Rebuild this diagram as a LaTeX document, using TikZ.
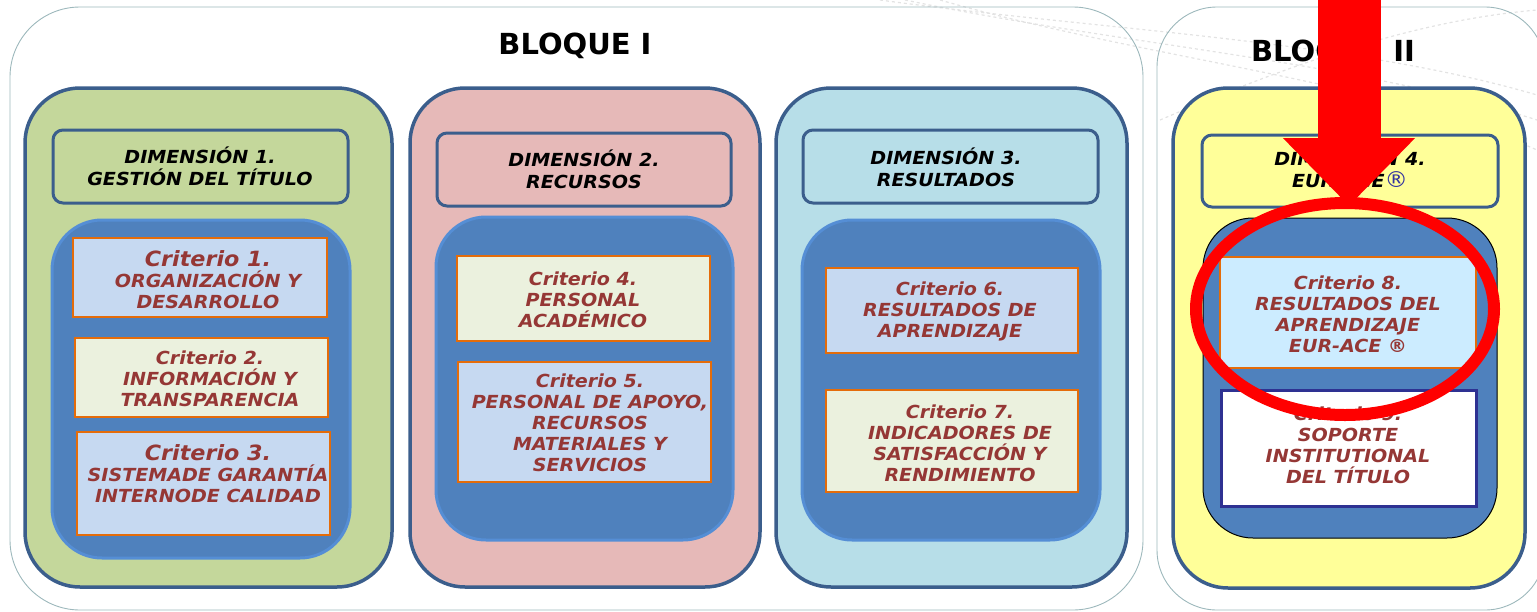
\documentclass[tikz,border=0pt]{standalone}
\usepackage{fontspec}
\setmainfont{DejaVu Sans}
\newfontfamily\anchafont[FakeStretch=1.06]{DejaVu Sans}
\usetikzlibrary{positioning,shapes.geometric,arrows.meta}

\definecolor{bordeazul}{HTML}{3B5E8C}
\definecolor{bordebloque}{HTML}{9DB8BC}
\definecolor{verde}{HTML}{C4D79B}
\definecolor{rosa}{HTML}{E6B9B8}
\definecolor{celeste}{HTML}{B7DEE8}
\definecolor{amarillo}{HTML}{FFFF99}
\definecolor{azulint}{HTML}{4F81BD}
\definecolor{azulborde}{HTML}{558ED5}
\definecolor{critazul}{HTML}{C6D9F1}
\definecolor{critcrema}{HTML}{EBF1DE}
\definecolor{critcian}{HTML}{CCECFF}
\definecolor{naranja}{HTML}{E46C0A}
\definecolor{marino}{HTML}{2E3192}
\definecolor{textorojo}{HTML}{953735}
\definecolor{regazul}{HTML}{3333A0}

\tikzset{
  bloque/.style={draw=bordebloque, line width=0.9pt, rounded corners=70pt},
  dimpanel/.style={draw=bordeazul, line width=3.5pt, rounded corners=55pt},
  dimtitulo/.style={draw=bordeazul, line width=3pt, rounded corners=10pt},
  interior/.style={fill=azulint, draw=azulborde, line width=3pt, rounded corners=50pt},
  criterio/.style={draw=naranja, line width=2pt},
  critexto/.style={text=textorojo, font=\anchafont\bfseries\itshape\fontsize{18}{21}\selectfont, align=center, inner sep=0pt},
  dimtexto/.style={font=\anchafont\bfseries\itshape\fontsize{18}{22}\selectfont, align=center, inner sep=0pt},
  bloqtexto/.style={font=\bfseries\fontsize{29}{34}\selectfont, inner sep=0pt},
  flecha/.style={red, line width=63pt, -{Triangle[length=68pt, width=128pt]}},
  deco/.style={gray!22, dashed, line width=1.2pt}
}
\newcommand{\critgrande}[1]{{\fontsize{21}{24}\selectfont #1}}

\begin{document}
\begin{tikzpicture}[x=1pt, y=-1pt]
  \useasboundingbox (0,0) rectangle (1537,611);
  % lineas de fondo
  \draw[deco] (880,0) .. controls (1100,30) and (1350,40) .. (1537,95);
  \draw[deco] (905,0) .. controls (1120,45) and (1350,60) .. (1537,120);
  \draw[deco] (940,0) .. controls (1150,60) and (1380,80) .. (1537,150);
  \draw[deco] (1160,120) .. controls (1300,60) and (1420,20) .. (1537,10);

  % bloques
  \draw[bloque] (10,7) rectangle (1143,610);
  \draw[bloque, rounded corners=60pt] (1157,7) rectangle (1545,610);
  \node[bloqtexto] (bloq1) at (575,46) {BLOQUE I};
  \node[bloqtexto] (bloq2) at (1333,53) {BLOQUE II};

  % dimensiones
  \node[dimpanel, fill=verde, minimum width=367pt, minimum height=499pt] (dim1) at (208.5,337.5) {};
  \node[dimpanel, fill=rosa, minimum width=350pt, minimum height=499pt] (dim2) at (585,337.5) {};
  \node[dimpanel, fill=celeste, minimum width=351pt, minimum height=499pt] (dim3) at (951.5,337.5) {};
  \node[dimpanel, fill=amarillo, minimum width=352pt, minimum height=500pt] (dim4) at (1349,338) {};

  \node[dimtitulo, fill=verde, minimum width=295pt, minimum height=73pt] (tit1) at (200.5,166.5) {};
  \node[dimtitulo, fill=rosa, minimum width=294pt, minimum height=73pt] (tit2) at (584,169.5) {};
  \node[dimtitulo, fill=celeste, minimum width=295pt, minimum height=73pt] (tit3) at (950.5,166.5) {};
  \node[dimtitulo, fill=amarillo, minimum width=296pt, minimum height=72pt] (tit4) at (1350,171) {};
  \node[dimtexto] (tx1) at (200,166) {DIMENSIÓN 1.\\GESTIÓN DEL TÍTULO};
  \node[dimtexto] (tx2) at (584,169) {DIMENSIÓN 2.\\RECURSOS};
  \node[dimtexto] (tx3) at (946,167) {DIMENSIÓN 3.\\RESULTADOS};
  \node[dimtexto] (tx4) at (1350,168) {DIMENSIÓN 4.\\EUR-ACE{\color{regazul}\mdseries\upshape\fontsize{22}{22}\selectfont ®}};

  % zonas interiores
  \node[interior, minimum width=298pt, minimum height=338pt] (int1) at (201,389) {};
  \node[interior, minimum width=297pt, minimum height=323pt] (int2) at (584.5,378.5) {};
  \node[interior, minimum width=298pt, minimum height=320pt] (int3) at (951,380) {};
  \node[interior, draw=black, line width=1pt, minimum width=294pt, minimum height=320pt] (int4) at (1350,378) {};

  % criterios
  \node[criterio, fill=critazul, minimum width=254pt, minimum height=79pt] (crit1) at (200,277.5) {};
  \node[criterio, fill=critcrema, minimum width=253pt, minimum height=79pt] (crit2) at (201.5,377.5) {};
  \node[criterio, fill=critazul, minimum width=253pt, minimum height=103pt] (crit3) at (203.5,483.5) {};
  \node[criterio, fill=critcrema, minimum width=253pt, minimum height=85pt] (crit4) at (583.5,298.5) {};
  \node[criterio, fill=critazul, minimum width=253pt, minimum height=120pt] (crit5) at (584.5,422) {};
  \node[criterio, fill=critazul, minimum width=252pt, minimum height=85pt] (crit6) at (952,310.5) {};
  \node[criterio, fill=critcrema, minimum width=252pt, minimum height=102pt] (crit7) at (952,441) {};
  \node[criterio, fill=critcian, minimum width=256pt, minimum height=111pt] (crit8) at (1348,312.5) {};
  \node[criterio, fill=white, draw=marino, line width=3pt, minimum width=255pt, minimum height=116pt] (crit9) at (1348.5,448) {};

  \node[critexto] (ct1) at (208,280) {\critgrande{Criterio 1.}\\ORGANIZACIÓN Y\\DESARROLLO};
  \node[critexto] (ct2) at (210,379) {Criterio 2.\\INFORMACIÓN Y\\TRANSPARENCIA};
  \node[critexto] (ct3) at (208,474) {\critgrande{Criterio 3.}\\SISTEMADE GARANTÍA\\INTERNODE CALIDAD};
  \node[critexto] (ct4) at (583,300) {Criterio 4.\\PERSONAL\\ACADÉMICO};
  \node[critexto] (ct5) at (590,423) {Criterio 5.\\PERSONAL DE APOYO,\\RECURSOS\\MATERIALES Y\\SERVICIOS};
  \node[critexto] (ct6) at (950,311) {Criterio 6.\\RESULTADOS DE\\APRENDIZAJE};
  \node[critexto] (ct7) at (960,443) {Criterio 7.\\INDICADORES DE\\SATISFACCIÓN Y\\RENDIMIENTO};
  \node[critexto] (ct8) at (1348,314) {Criterio 8.\\RESULTADOS DEL\\APRENDIZAJE\\EUR-ACE ®};
  \node[critexto] (ct9) at (1348,445) {Criterio 9.\\SOPORTE\\INSTITUTIONAL\\DEL TÍTULO};

  % marca roja
  \coordinate (flechaini) at (1349,-5);
  \coordinate (flechafin) at (1349,206);
  \draw[flecha] (flechaini) -- (flechafin);
  \node[ellipse, draw=red, line width=12pt, minimum width=298pt, minimum height=212pt] (elipse) at (1345,309) {};
\end{tikzpicture}
\end{document}
